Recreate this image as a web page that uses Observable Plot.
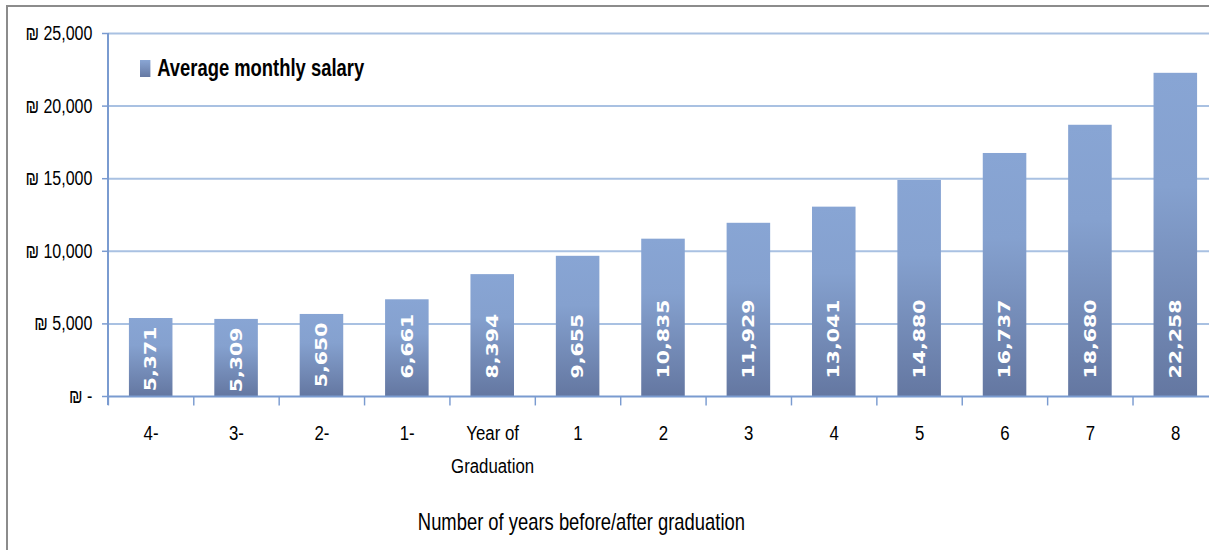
<!DOCTYPE html>
<html>
<head>
<meta charset="utf-8">
<script src="https://cdn.jsdelivr.net/npm/d3@7"></script>
<script src="https://cdn.jsdelivr.net/npm/@observablehq/plot@0.6"></script>
<style>
  html, body { margin: 0; padding: 0; background: #fff; }
  #wrap { position: relative; width: 1209px; height: 550px; overflow: hidden; }
  #chart { width: 1600px; }
  #chart svg { transform: scaleX(0.8); transform-origin: 0 0; display: block; max-width: none !important; height: 550px !important; }
  #frame { position: absolute; left: 6px; top: 5px; width: 1300px; height: 700px; border: 2px solid #8c8c8c; box-sizing: border-box; pointer-events: none; }
  #legend { position: absolute; left: 140px; top: 55px; display: flex; align-items: center; font-family: "Liberation Sans", Arial, sans-serif; font-weight: bold; font-size: 23px; color: #000; transform: scaleX(0.8); transform-origin: 0 50%; white-space: nowrap; }
  #legend .sw { width: 12.5px; height: 17px; background: linear-gradient(#8aa6d4, #6679a3); margin-right: 9px; }
</style>
</head>
<body>
<div id="wrap">
  <div id="chart"></div>
  <div id="frame"></div>
  <div id="legend"><div class="sw"></div><span>Average monthly salary</span></div>
</div>
<script>
const categories = ["4-", "3-", "2-", "1-", "Year of\nGraduation", "1", "2", "3", "4", "5", "6", "7", "8"];
const salaries = [5371, 5309, 5650, 6661, 8394, 9655, 10835, 11929, 13041, 14880, 16737, 18680, 22258];
const yTicks = [0, 5000, 10000, 15000, 20000, 25000];
const xTitle = "Number of years before/after graduation";

const data = categories.map((c, i) => ({cat: c, value: salaries[i]}));

const S = 0.8;                       // horizontal squeeze applied to the whole svg
const W = 1218 / S, H = 550, mL = 108 / S, mR = 0, mT = 33, mB = 154;
const step = (W - mL - mR) / categories.length;

const fmt = d3.format(",");
const axisColor = "#7a9bd0";
const plot = Plot.plot({
  width: W,
  height: H,
  marginLeft: mL,
  marginRight: mR,
  marginTop: mT,
  marginBottom: mB,
  style: {fontFamily: "'Liberation Sans', Arial, sans-serif", background: "transparent"},
  x: {domain: categories, paddingInner: 0.49, paddingOuter: 0.245, round: false, axis: null},
  y: {domain: [0, 25000], ticks: yTicks, label: null},
  marks: [
    Plot.gridY(yTicks.filter(d => d > 0), {stroke: "#a9c1e2", strokeOpacity: 1, strokeWidth: 2}),
    Plot.barY(data, {x: "cat", y: "value", fill: "url(#barGrad)"}),
    // value labels: inside base for tall bars, hanging from top for short bars
    Plot.text(data.filter(d => d.value >= 6000), {x: "cat", y: 0, text: d => fmt(d.value), rotate: -90, textAnchor: "start", dy: -18, fill: "white", fontWeight: "bold", fontSize: 20.5, fontFamily: "DejaVu Sans", lineAnchor: "middle"}),
    Plot.text(data.filter(d => d.value < 6000), {x: "cat", y: "value", text: d => fmt(d.value), rotate: -90, textAnchor: "end", dy: 8, fill: "white", fontWeight: "bold", fontSize: 20.5, fontFamily: "DejaVu Sans", lineAnchor: "middle"}),
    Plot.ruleY([0], {stroke: axisColor, strokeWidth: 2}),
    Plot.axisY({ticks: yTicks, tickSize: 6 / S, tickPadding: 10 / S, stroke: axisColor, strokeWidth: 1.5, fontSize: 20, fill: "#000", label: null,
      tickFormat: d => d === 0 ? "₪ -" : "₪ " + fmt(d)}),
    Plot.ruleX(categories, {x: d => d, dx: -step / 2, y1: 0, y2: -650, stroke: axisColor, strokeWidth: 1.8, clip: false}),
    Plot.ruleX(categories.slice(-1), {x: d => d, dx: step / 2, y1: 0, y2: -650, stroke: axisColor, strokeWidth: 1.8, clip: false}),
    Plot.text(categories, {x: d => d, y: 0, dy: 37, lineAnchor: "middle", fontSize: 21, fill: "#000", text: d => d.split("\n")[0]}),
    Plot.text(categories.filter(d => d.includes("\n")), {x: d => d, y: 0, dy: 70, lineAnchor: "middle", fontSize: 21, fill: "#000", text: d => d.split("\n")[1]}),
    Plot.text([xTitle], {frameAnchor: "bottom", dx: (581 / S) - (mL + W) / 2, dy: 126, fontSize: 23, fill: "#000", lineAnchor: "middle"})
  ]
});

const svg = plot;
const ns = "http://www.w3.org/2000/svg";
const defs = document.createElementNS(ns, "defs");
defs.innerHTML = `<linearGradient id="barGrad" x1="0" y1="0" x2="0" y2="1">
  <stop offset="0%" stop-color="#88a5d4"/>
  <stop offset="35%" stop-color="#85a1cf"/>
  <stop offset="100%" stop-color="#6477a1"/>
</linearGradient>`;
svg.insertBefore(defs, svg.firstChild);
// vertical axis line
const line = document.createElementNS(ns, "line");
line.setAttribute("x1", mL); line.setAttribute("x2", mL);
line.setAttribute("y1", mT); line.setAttribute("y2", H - mB + 9);
line.setAttribute("stroke", axisColor); line.setAttribute("stroke-width", "2.5");
svg.appendChild(line);
document.getElementById("chart").appendChild(svg);
</script>
</body>
</html>
